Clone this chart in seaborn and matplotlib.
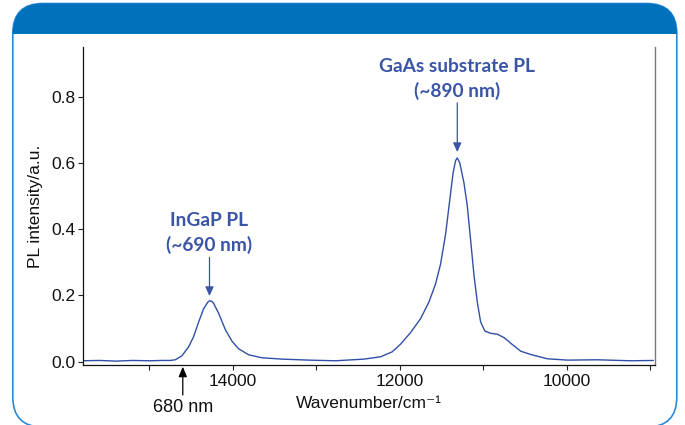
import numpy as np
import pandas as pd
import seaborn as sns
import matplotlib.pyplot as plt
from matplotlib.patches import FancyBboxPatch, Rectangle

# spectrum (wavenumber in cm-1, PL intensity in a.u.)
wavenumber = [15800, 15600, 15400, 15200, 15000, 14850, 14750, 14690, 14610, 14530,
              14470, 14410, 14350, 14300, 14280, 14250, 14230, 14170, 14090, 14010,
              13930, 13810, 13650, 13410, 13090, 12770, 12430, 12230, 12090, 11990,
              11870, 11750, 11650, 11570, 11510, 11450, 11400, 11360, 11330, 11310,
              11280, 11230, 11190, 11150, 11110, 11070, 11030, 10980, 10910, 10830,
              10750, 10650, 10550, 10430, 10230, 9990, 9630, 9230, 8960]
intensity = [0.003, 0.004, 0.002, 0.004, 0.003, 0.004, 0.004, 0.006, 0.018, 0.045,
             0.076, 0.120, 0.160, 0.180, 0.184, 0.182, 0.176, 0.146, 0.097, 0.062,
             0.039, 0.021, 0.012, 0.008, 0.005, 0.003, 0.008, 0.015, 0.030, 0.053,
             0.088, 0.130, 0.180, 0.235, 0.295, 0.385, 0.488, 0.570, 0.607, 0.615,
             0.600, 0.540, 0.470, 0.367, 0.262, 0.180, 0.120, 0.093, 0.086, 0.083,
             0.073, 0.052, 0.032, 0.022, 0.009, 0.005, 0.006, 0.003, 0.004]

xticks = [15000, 14000, 13000, 12000, 11000, 10000, 9000]
xtick_labels = ["", "14000", "", "12000", "", "10000", ""]
yticks = [0.0, 0.2, 0.4, 0.6, 0.8]
ytick_labels = ["0.0", "0.2", "0.4", "0.6", "0.8"]

ingap_peak = (14280, 0.184)
gaas_peak = (11310, 0.615)
edge_680 = 14600

line_color = "#3050A8"
note_color = "#3B55A6"

sns.set_style("ticks")
plt.rcParams['font.family'] = ['Liberation Sans', 'DejaVu Sans']

fig = plt.figure(figsize=(6.85, 4.25), dpi=100)

# frame with the blue header, drawn in pixel units
bg = fig.add_axes([0, 0, 1, 1])
bg.set_xlim(0, 685)
bg.set_ylim(425, 0)
bg.axis('off')
box = FancyBboxPatch((12.8, 3.5), 664, 423.5, boxstyle="round,pad=0,rounding_size=30",
                     fc='white', ec='#2A8AD8', lw=1.2)
bg.add_patch(box)
header = Rectangle((10, 2), 670, 32, fc='#0071BB', ec='none')
bg.add_patch(header)
header.set_clip_path(box)

ax = fig.add_axes([0.1207, 0.1412, 0.8355, 0.7475])
df = pd.DataFrame({'wn': wavenumber, 'pl': intensity})
sns.lineplot(data=df, x='wn', y='pl', ax=ax, color=line_color, lw=1.0)

ax.set_xlim(15800, 8940)
ax.set_ylim(-0.0097, 0.9487)
ax.set_xticks(xticks)
ax.set_xticklabels(xtick_labels)
ax.set_yticks(yticks)
ax.set_yticklabels(ytick_labels)
ax.tick_params(axis='both', labelsize=12.5, length=3.5, width=0.8, color='#222222',
               labelcolor='#111111')
ax.tick_params(axis='y', pad=1.5)
ax.tick_params(axis='x', pad=3)

ax.spines['top'].set_visible(False)
ax.spines['right'].set_color('#777777')
ax.spines['right'].set_linewidth(1.0)
for s in ['left', 'bottom']:
    ax.spines[s].set_color('#111111')
    ax.spines[s].set_linewidth(0.9)

ax.set_xlabel("Wavenumber/cm⁻¹", fontsize=12.5, labelpad=5, color='#111111')
ax.set_ylabel("PL intensity/a.u.", fontsize=12.5, labelpad=6, color='#111111')

arrow_kw = dict(arrowstyle='-|>,head_length=0.55,head_width=0.25', mutation_scale=10,
                color=note_color, lw=0.9, shrinkA=0)
ax.annotate("GaAs substrate PL\n(~890 nm)", xy=gaas_peak, xytext=(0, 42),
            textcoords='offset points', ha='center', va='bottom',
            fontsize=13.8, fontweight='bold', family=['Lato', 'DejaVu Sans'],
            color=note_color, linespacing=1.45,
            arrowprops=dict(arrow_kw, shrinkB=4.2))
ax.annotate("InGaP PL\n(~690 nm)", xy=ingap_peak, xytext=(0, 33.6),
            textcoords='offset points', ha='center', va='bottom',
            fontsize=13.8, fontweight='bold', family=['Lato', 'DejaVu Sans'],
            color=note_color, linespacing=1.45,
            arrowprops=dict(arrow_kw, shrinkB=3.4))

# 680 nm marker under the axis
trans = ax.get_xaxis_transform()
ax.annotate("", xy=(edge_680, -0.0054), xytext=(edge_680, -0.0944), xycoords=trans,
            textcoords=trans, annotation_clip=False,
            arrowprops=dict(arrowstyle='-|>,head_length=0.6,head_width=0.25',
                            mutation_scale=10, color='black', lw=0.9,
                            shrinkA=0, shrinkB=0))
ax.text(edge_680, -0.135, "680 nm", transform=trans, ha='center', va='center',
        fontsize=13, color='#111111')

fig.savefig("out.png", dpi=100)
